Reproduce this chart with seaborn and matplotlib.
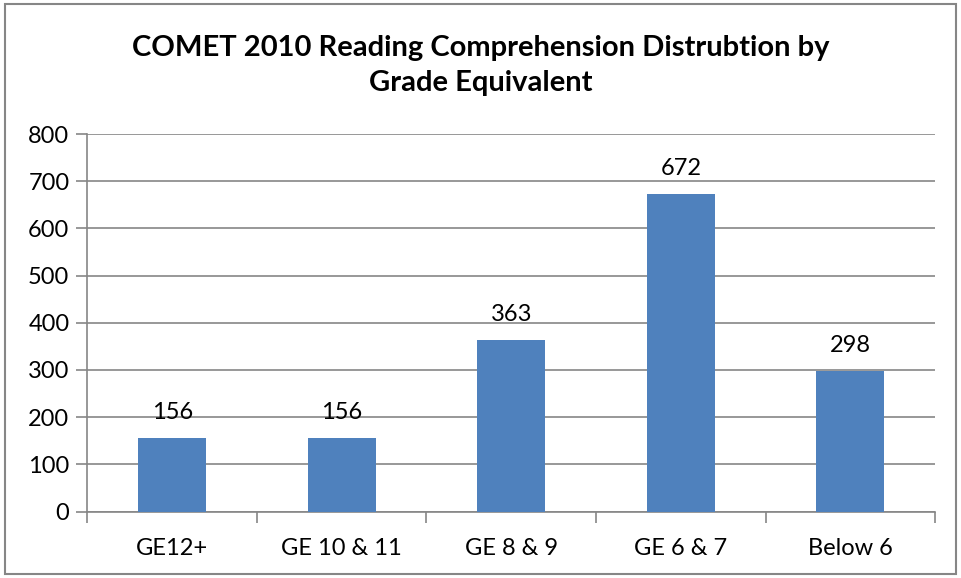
import matplotlib
matplotlib.use("Agg")
import matplotlib.pyplot as plt
import pandas as pd
import seaborn as sns

# data
grades = ["GE12+", "GE 10 & 11", "GE 8 & 9", "GE 6 & 7", "Below 6"]
counts = [156, 156, 363, 672, 298]

sns.set_theme(style="white")
plt.rcParams["font.family"] = ["Lato", "DejaVu Sans"]

df = pd.DataFrame({"grade": grades, "count": counts})

fig = plt.figure(figsize=(9.61, 5.78), dpi=100)
ax = fig.add_axes([0.091, 0.115, 0.882, 0.653])

sns.barplot(data=df, x="grade", y="count", color="#4F81BD", width=0.4,
            saturation=1, linewidth=0, ax=ax, zorder=3)

ax.set_ylim(0, 800)
ax.set_yticks(range(0, 801, 100))
ax.set_xlim(-0.5, len(grades) - 0.5)
ax.yaxis.grid(True, color="#868686", linewidth=1.2, zorder=0)
ax.set_axisbelow(True)

for s in ["top", "right"]:
    ax.spines[s].set_visible(False)
for s in ["left", "bottom"]:
    ax.spines[s].set_color("#868686")
    ax.spines[s].set_linewidth(1.2)

# x ticks between categories, labels centered
ax.set_xticks([i - 0.5 for i in range(len(grades) + 1)], minor=False)
ax.set_xticklabels([])
ax.set_xticks(range(len(grades)), minor=True)
ax.set_xticklabels(grades, minor=True)
ax.tick_params(axis="x", which="major", length=8, width=1.2, color="#868686", bottom=True)
ax.tick_params(axis="x", which="minor", length=0, pad=19, labelsize=17, labelcolor="black")
ax.tick_params(axis="y", length=8, width=1.2, color="#868686", left=True,
               labelsize=17, pad=5, labelcolor="black")
ax.set_xlabel("")
ax.set_ylabel("")

for c in ax.containers:
    ax.bar_label(c, fontsize=17, padding=11, color="black")

fig.suptitle("COMET 2010 Reading Comprehension Distrubtion by\nGrade Equivalent",
             fontsize=21, fontweight="bold", y=0.94, linespacing=1.45, color="black")

border = plt.Rectangle((0.005, 0.007), 0.99, 0.986, transform=fig.transFigure,
                       fill=False, edgecolor="#868686", linewidth=1.5)
fig.patches.append(border)

fig.savefig("out.png", dpi=100)
